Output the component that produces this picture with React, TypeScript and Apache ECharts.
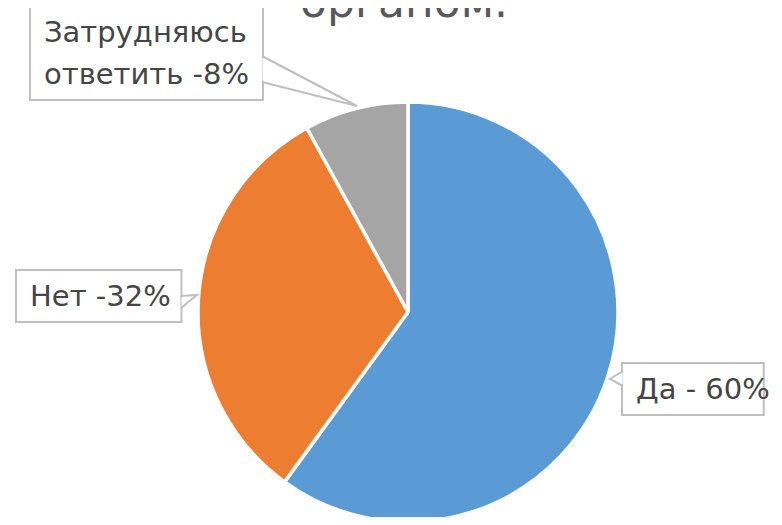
import React, { useEffect, useRef } from "react";
import * as echarts from "echarts";

const categories = ["Да", "Нет", "Затрудняюсь ответить"];
const values = [60, 32, 8];
const labelTexts = ["Да - 60%", "Нет -32%", "Затрудняюсь\nответить -8%"];
const colors = ["#5B9BD5", "#ED7D31", "#A5A5A5"];
const titleText = "органом.";

// label box top-left positions
const labelPos = [
  { x: 623, y: 364 },
  { x: 17, y: 271 },
  { x: 31, y: 7 },
];
// callout pointer shapes (base point, tip, base point)
const pointers = [
  [[623, 371], [610, 379], [623, 386]],
  [[181, 296], [197, 295], [181, 308]],
  [[262, 56], [357, 106], [262, 82]],
];

export default function App() {
  const ref = useRef<HTMLDivElement>(null);
  useEffect(() => {
    if (!ref.current) return;
    const chart = echarts.init(ref.current, undefined, { renderer: "svg" });
    const font = "DejaVu Sans";
    const pointerGraphics: any[] = [];
    pointers.forEach((pts) => {
      const inset = pts.map((p, i) =>
        i === 1 ? p : [p[0] + (pts[1][0] > p[0] ? 0.5 : -0.5), p[1] + (i === 0 ? 1.5 : -1.5)]
      );
      pointerGraphics.push({
        type: "polygon",
        z: 100,
        shape: { points: inset },
        style: { fill: "#ffffff", stroke: "none" },
        silent: true,
      });
      pointerGraphics.push({
        type: "polyline",
        z: 101,
        shape: { points: pts },
        style: { fill: "none", stroke: "#BFBFBF", lineWidth: 2 },
        silent: true,
      });
    });
    chart.setOption({
      animation: false,
      backgroundColor: "#ffffff",
      graphic: [
        {
          type: "text",
          x: 404,
          y: 1,
          style: {
            text: titleText,
            fontFamily: font,
            fontSize: 44,
            fill: "#595959",
            align: "center",
            verticalAlign: "middle",
          },
        },
        ...pointerGraphics,
      ],
      series: [
        {
          type: "pie",
          center: [408, 312],
          radius: 210,
          startAngle: 90,
          clockwise: true,
          data: categories.map((c, i) => ({
            name: c,
            value: values[i],
            itemStyle: { color: colors[i] },
          })),
          itemStyle: { borderColor: "#ffffff", borderWidth: 3.5 },
          label: {
            show: true,
            position: "outside",
            formatter: (p: any) => labelTexts[p.dataIndex],
            fontFamily: font,
            fontSize: 29,
            lineHeight: 42,
            color: "#454545",
            backgroundColor: "#ffffff",
            borderColor: "#BFBFBF",
            borderWidth: 2,
            padding: [4, 13],
            overflow: "none",
          },
          labelLine: {
            show: true,
            length: 10,
            length2: 10,
            lineStyle: { color: "#BFBFBF", width: 2, opacity: 0 },
          },
          labelLayout: (params: any) => {
            const p = labelPos[params.dataIndex];
            return { x: p.x, y: p.y, align: "left", verticalAlign: "top" };
          },
          emphasis: { disabled: true },
        },
      ],
    });
    return () => chart.dispose();
  }, []);
  return <div ref={ref} style={{ width: 782, height: 525, margin: -8 }} />;
}
